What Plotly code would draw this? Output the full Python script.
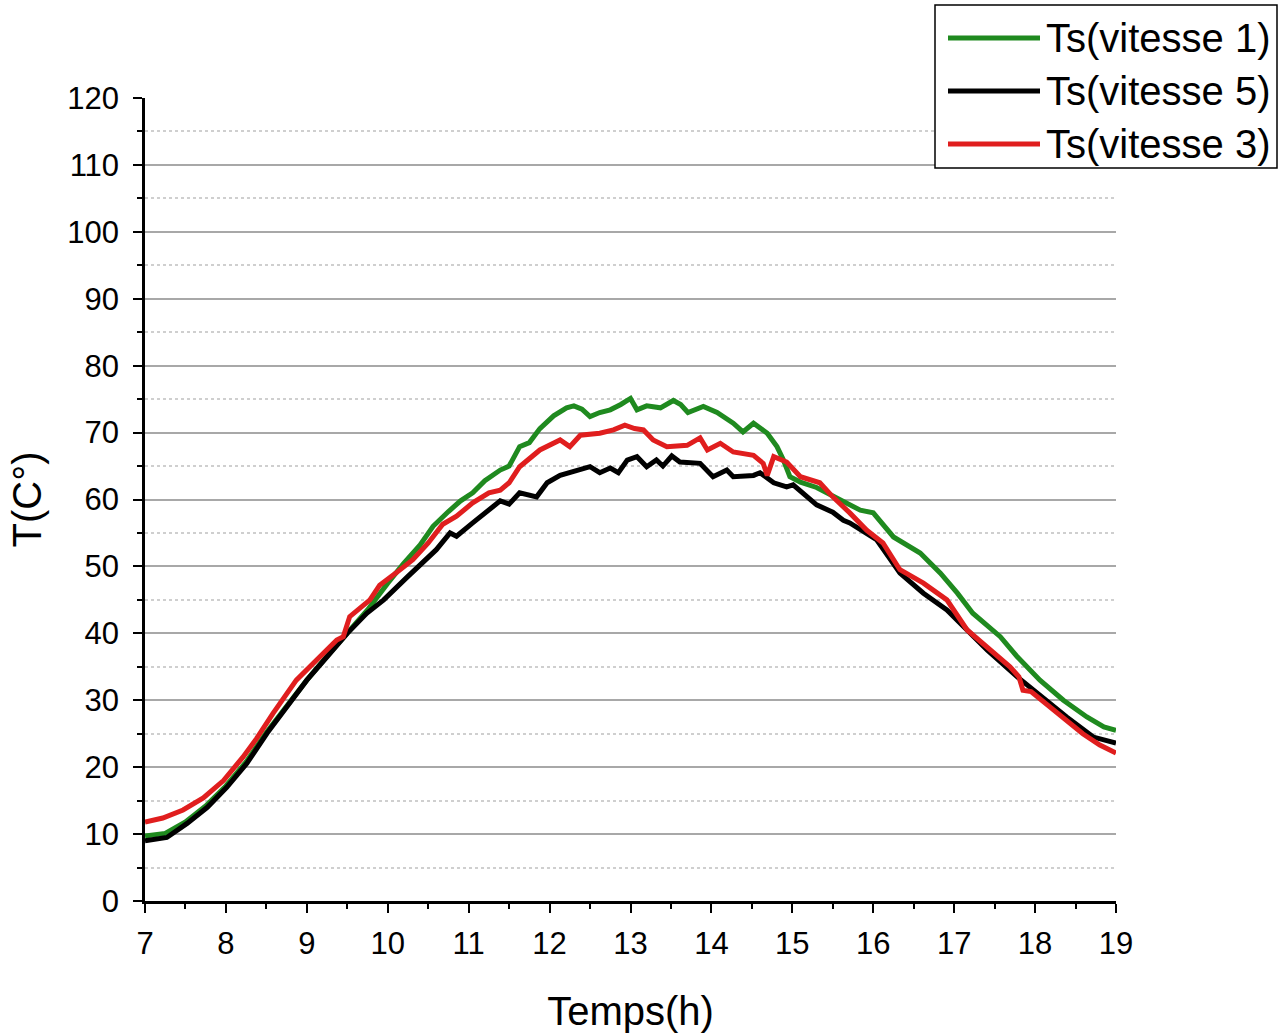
import plotly.graph_objects as go

# ---- data ----
t_v1 = [7.0, 7.25, 7.5, 7.75, 8.0, 8.25, 8.5, 8.75, 9.0, 9.25, 9.5, 9.75, 10.0, 10.2, 10.4, 10.56,
        10.75, 10.9, 11.05, 11.2, 11.39, 11.5, 11.63, 11.75, 11.88, 12.05, 12.21, 12.3, 12.4, 12.5,
        12.62, 12.75, 12.88, 13.0, 13.08, 13.2, 13.37, 13.53, 13.62, 13.71, 13.9, 14.07, 14.27,
        14.39, 14.52, 14.69, 14.81, 14.89, 14.97, 15.1, 15.3, 15.5, 15.71, 15.84, 16.0, 16.25,
        16.58, 16.83, 17.04, 17.23, 17.57, 17.78, 18.06, 18.35, 18.64, 18.85, 19.0]
ts_v1 = [9.7, 10.1, 11.8, 14.2, 17.2, 20.8, 25.2, 29.2, 33.0, 36.6, 40.0, 43.5, 47.5, 50.5, 53.2, 56.0,
         58.2, 59.8, 61.0, 62.8, 64.4, 65.0, 67.9, 68.5, 70.6, 72.5, 73.7, 74.0, 73.5, 72.4,
         73.0, 73.4, 74.2, 75.1, 73.4, 74.0, 73.7, 74.8, 74.2, 73.0, 73.9, 73.0, 71.4,
         70.1, 71.4, 69.9, 67.9, 65.9, 63.4, 62.6, 61.8, 60.6, 59.2, 58.4, 58.0, 54.4,
         52.0, 49.0, 46.0, 43.0, 39.5, 36.5, 33.0, 30.0, 27.5, 26.0, 25.5]

t_v5 = [7.0, 7.27, 7.52, 7.77, 8.01, 8.26, 8.51, 8.75, 9.0, 9.25, 9.5, 9.74, 9.95, 10.24, 10.49, 10.6,
        10.77, 10.85, 11.05, 11.2, 11.39, 11.5, 11.63, 11.84, 11.97, 12.13, 12.34, 12.5, 12.62,
        12.75, 12.85, 12.96, 13.08, 13.2, 13.32, 13.4, 13.51, 13.61, 13.86, 14.02, 14.19, 14.27,
        14.52, 14.6, 14.77, 14.93, 15.01, 15.18, 15.3, 15.5, 15.63, 15.71, 16.04, 16.33, 16.62,
        16.91, 17.16, 17.41, 17.78, 17.98, 18.39, 18.72, 19.0]
ts_v5 = [9.0, 9.5, 11.6, 14.0, 17.0, 20.6, 25.1, 29.0, 33.0, 36.5, 40.0, 43.0, 45.0, 48.4, 51.4, 52.5,
         55.0, 54.5, 56.5, 58.0, 59.8, 59.3, 61.0, 60.4, 62.5, 63.6, 64.4, 64.9, 64.0,
         64.7, 64.0, 65.9, 66.4, 64.9, 65.9, 65.0, 66.5, 65.6, 65.4, 63.4, 64.4, 63.4,
         63.6, 64.0, 62.5, 61.9, 62.2, 60.4, 59.2, 58.1, 56.9, 56.5, 54.0, 49.0, 46.0,
         43.5, 40.5, 37.5, 33.5, 31.5, 27.5, 24.5, 23.6]

t_v3 = [7.0, 7.22, 7.47, 7.72, 7.97, 8.21, 8.38, 8.58, 8.87, 9.12, 9.37, 9.45, 9.53, 9.78, 9.9, 10.1,
        10.31, 10.5, 10.68, 10.85, 11.05, 11.25, 11.39, 11.5, 11.63, 11.88, 12.13, 12.25, 12.38,
        12.62, 12.79, 12.93, 13.05, 13.16, 13.28, 13.45, 13.7, 13.86, 13.95, 14.11, 14.27, 14.52,
        14.64, 14.69, 14.77, 14.93, 15.1, 15.34, 15.5, 15.71, 15.92, 16.12, 16.33, 16.62, 16.91,
        17.16, 17.41, 17.69, 17.8, 17.85, 17.95, 18.19, 18.59, 18.8, 19.0]
ts_v3 = [11.8, 12.4, 13.6, 15.4, 18.0, 21.5, 24.3, 28.0, 33.0, 36.0, 39.0, 39.5, 42.5, 45.0, 47.2, 49.0,
         51.0, 53.5, 56.3, 57.5, 59.5, 61.0, 61.4, 62.5, 64.9, 67.4, 68.9, 67.9, 69.6,
         69.9, 70.4, 71.1, 70.6, 70.4, 68.9, 67.9, 68.1, 69.2, 67.4, 68.4, 67.1, 66.6,
         65.4, 63.6, 66.4, 65.6, 63.4, 62.5, 60.4, 58.0, 55.4, 53.5, 49.5, 47.5, 45.0,
         40.5, 38.0, 35.0, 33.5, 31.5, 31.3, 29.0, 25.0, 23.3, 22.1]

series_names = ["Ts(vitesse 1)", "Ts(vitesse 5)", "Ts(vitesse 3)"]
series_colors = ["#1f8a1f", "#000000", "#e01e1e"]

FONT = "Liberation Sans, Arial, sans-serif"

fig = go.Figure()
for t, v, name, col in zip([t_v1, t_v5, t_v3], [ts_v1, ts_v5, ts_v3], series_names, series_colors):
    fig.add_trace(go.Scatter(x=t, y=v, mode="lines", name=name,
                             line=dict(color=col, width=5), showlegend=False))

# target plot-area pixel box in the page (body margin removed below)
L, R, T, B = 145, 1116, 98, 901
def px(x):
    return (x - L) / (R - L)
def py(y):
    return (B - y) / (B - T)

# ---- custom legend (box, line samples, text) in paper coordinates ----
fig.add_shape(type="rect", xref="paper", yref="paper",
              x0=px(935), x1=px(1277), y0=py(168), y1=py(5),
              line=dict(color="#000000", width=1.5), fillcolor="white", layer="above")
for i, (name, col) in enumerate(zip(series_names, series_colors)):
    yy = 38 + i * 53
    fig.add_shape(type="line", xref="paper", yref="paper",
                  x0=px(948), x1=px(1040), y0=py(yy), y1=py(yy),
                  line=dict(color=col, width=5), layer="above")
    fig.add_annotation(xref="paper", yref="paper", x=px(1044), y=py(yy),
                       text=name, showarrow=False, xanchor="left", yanchor="middle",
                       font=dict(family=FONT, size=40, color="#000000"))

fig.update_layout(
    width=1281, height=1033,
    margin=dict(l=L, r=1281 - R, t=T, b=1033 - B, autoexpand=False),
    paper_bgcolor="white", plot_bgcolor="white",
    font=dict(family=FONT, color="#000000"),
    showlegend=False,
)
fig.update_xaxes(
    range=[7, 19], dtick=1, tick0=7,
    showline=True, linecolor="#000000", linewidth=2.5,
    ticks="outside", ticklen=9, tickwidth=2, tickcolor="#000000",
    minor=dict(dtick=0.5, ticks="outside", ticklen=5, tickwidth=2, tickcolor="#000000", showgrid=False),
    showgrid=False, zeroline=False, automargin=False,
    tickfont=dict(size=31, family=FONT), ticklabelstandoff=4,
    title=dict(text="Temps(h)", font=dict(size=40, family=FONT), standoff=38),
)
fig.update_yaxes(
    range=[0, 120], dtick=10, tick0=0,
    showline=True, linecolor="#000000", linewidth=2.5,
    ticks="outside", ticklen=9, tickwidth=2, tickcolor="#000000",
    minor=dict(dtick=5, ticks="outside", ticklen=5, tickwidth=2, tickcolor="#000000",
               showgrid=True, gridcolor="#cfcfcf", griddash="dot", gridwidth=1.5),
    showgrid=True, gridcolor="#a8a8a8", gridwidth=1.5, zeroline=False, automargin=False,
    tickfont=dict(size=31, family=FONT), ticklabelstandoff=8,
    title=dict(text="T(C°)", font=dict(size=40, family=FONT), standoff=14),
)

fig.write_html("out.html",
               config={"displayModeBar": False},
               post_script="document.body.style.margin='0';document.body.style.overflow='hidden';")
